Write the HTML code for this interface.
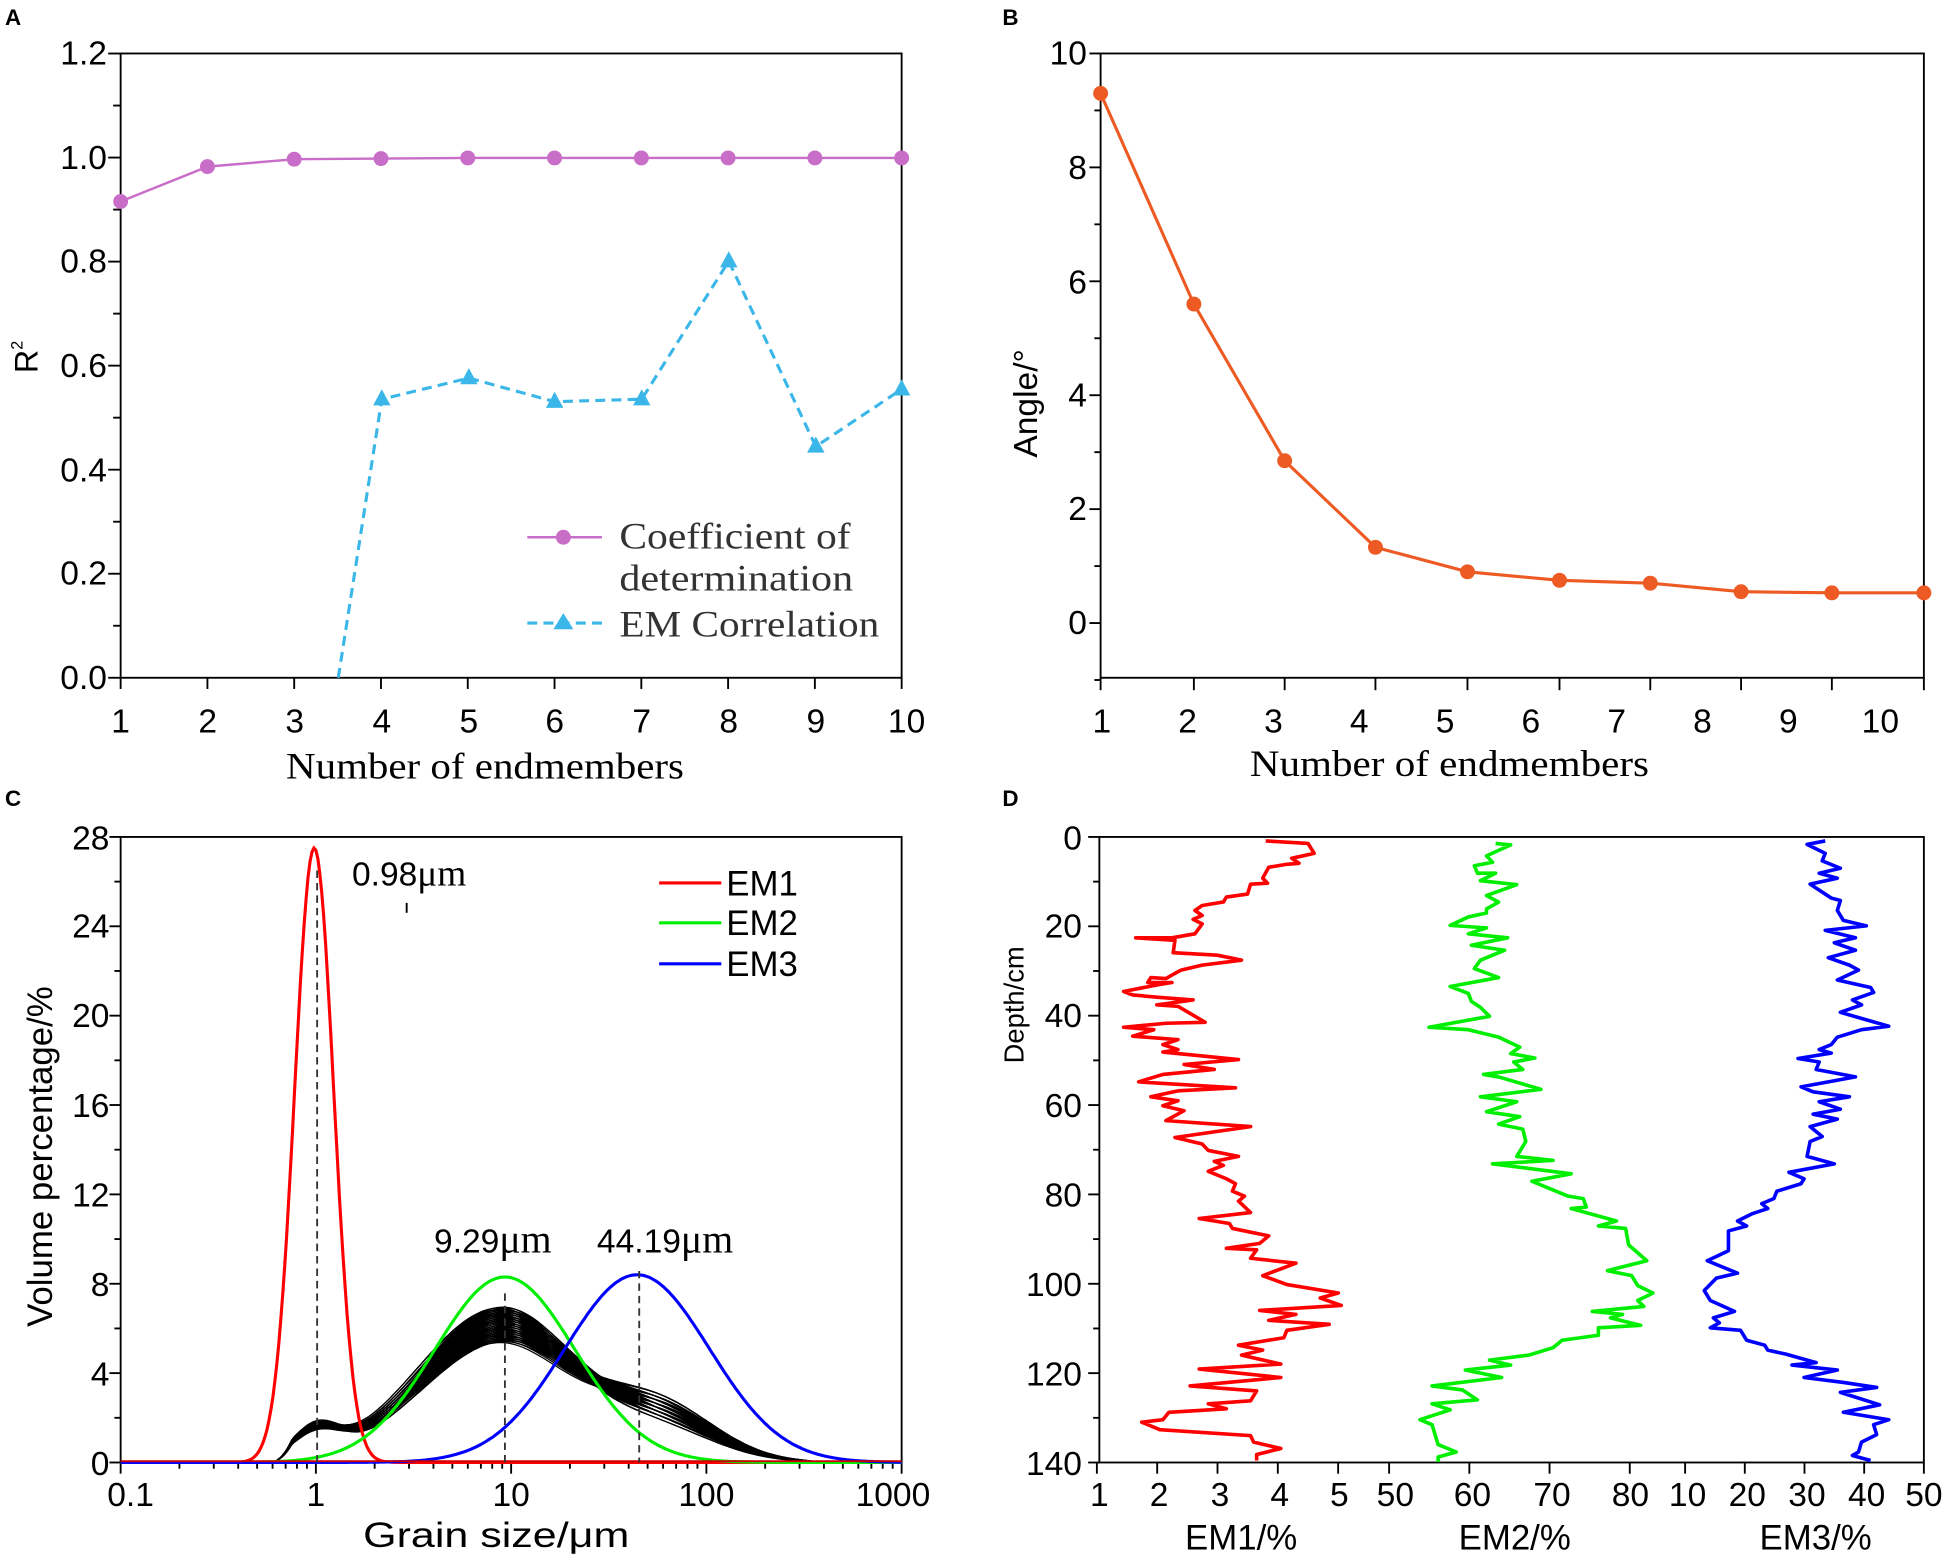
<!DOCTYPE html>
<html><head><meta charset="utf-8"><style>
html,body{margin:0;padding:0;background:#fff;}
svg{display:block;}
.s{font-family:"Liberation Sans",sans-serif;}
.r{font-family:"Liberation Serif",serif;}
</style></head><body>
<svg id="sv" width="1950" height="1557" viewBox="0 0 1568 1252" xmlns="http://www.w3.org/2000/svg">
<rect width="1568" height="1252" fill="#fff"/>
<g class="s" font-weight="bold" font-size="18"><text x="4" y="20">A</text><text x="806" y="20">B</text><text x="4" y="648">C</text><text x="806" y="648">D</text></g>

<!-- Panel A -->
<rect x="97" y="43" width="628" height="502" fill="none" stroke="#000" stroke-width="1.5"/>
<g id="axA" stroke="#000" stroke-width="1.5"></g>
<g class="s" font-size="27" text-anchor="end">
<text x="86" y="554">0.0</text><text x="86" y="470">0.2</text><text x="86" y="387">0.4</text><text x="86" y="303">0.6</text><text x="86" y="219">0.8</text><text x="86" y="136">1.0</text><text x="86" y="52">1.2</text></g>
<g class="s" font-size="27" text-anchor="middle">
<text x="97" y="589">1</text><text x="167" y="589">2</text><text x="237" y="589">3</text><text x="307" y="589">4</text><text x="377" y="589">5</text><text x="446" y="589">6</text><text x="516" y="589">7</text><text x="586" y="589">8</text><text x="656" y="589">9</text><text x="729" y="589">10</text></g>
<text class="r" x="230" y="626" font-size="30" textLength="320" lengthAdjust="spacingAndGlyphs">Number of endmembers</text>
<text class="s" font-size="26" transform="translate(30,300) rotate(-90)">R<tspan font-size="13" dy="-12">2</tspan></text>
<polyline fill="none" stroke="#c86ec8" stroke-width="2" points="97,162 167,134 237,128 307,127.5 377,127 446,127 516,127 586,127 656,127 725,127"/>
<g fill="#c86ec8" id="mA"></g>
<polyline fill="none" stroke="#3ab7e8" stroke-width="2.5" stroke-dasharray="8,5" points="272,545 307,321 377,304 446,323 516,321 586,210 656,359 725,313"/>
<g fill="#3ab7e8" id="tA"></g>
<line x1="424" y1="432" x2="484" y2="432" stroke="#c86ec8" stroke-width="2"/><circle cx="453" cy="432" r="6" fill="#c86ec8"/>
<line x1="424" y1="501" x2="484" y2="501" stroke="#3ab7e8" stroke-width="2.5" stroke-dasharray="8,5"/><polygon points="453,493 461,506 445,506" fill="#3ab7e8"/>
<g class="r" font-size="30" fill="#333"><text x="498" y="441" textLength="186" lengthAdjust="spacingAndGlyphs">Coefficient of</text><text x="498" y="475" textLength="188" lengthAdjust="spacingAndGlyphs">determination</text><text x="498" y="512" textLength="209" lengthAdjust="spacingAndGlyphs">EM Correlation</text></g>

<!-- Panel B -->
<rect x="885" y="43" width="662" height="502" fill="none" stroke="#000" stroke-width="1.5"/>
<g id="axB" stroke="#000" stroke-width="1.5"></g>
<g class="s" font-size="27" text-anchor="end">
<text x="874" y="510">0</text><text x="874" y="418">2</text><text x="874" y="327">4</text><text x="874" y="236">6</text><text x="874" y="144">8</text><text x="874" y="52">10</text></g>
<g class="s" font-size="27" text-anchor="middle">
<text x="886" y="589">1</text><text x="955" y="589">2</text><text x="1024" y="589">3</text><text x="1093" y="589">4</text><text x="1162" y="589">5</text><text x="1231" y="589">6</text><text x="1300" y="589">7</text><text x="1369" y="589">8</text><text x="1438" y="589">9</text><text x="1512" y="589">10</text></g>
<text class="r" x="1005" y="624" font-size="30" textLength="321" lengthAdjust="spacingAndGlyphs">Number of endmembers</text>
<text class="s" font-size="27" transform="translate(834,368) rotate(-90)">Angle/°</text>
<polyline id="plB" fill="none" stroke="#ee5a24" stroke-width="2.5"/>
<g fill="#ee5a24" id="mB"></g>

<!-- Panel C -->
<rect x="97" y="673" width="628" height="503" fill="none" stroke="#000" stroke-width="1.5"/>
<g id="axC" stroke="#000" stroke-width="1.5"></g>
<g class="s" font-size="27" text-anchor="end">
<text x="88" y="1186">0</text><text x="88" y="1114">4</text><text x="88" y="1042">8</text><text x="88" y="970">12</text><text x="88" y="898">16</text><text x="88" y="826">20</text><text x="88" y="754">24</text><text x="88" y="683">28</text></g>
<g class="s" font-size="27" text-anchor="middle">
<text x="105" y="1211">0.1</text><text x="254" y="1211">1</text><text x="411" y="1211">10</text><text x="568" y="1211">100</text><text x="718" y="1211">1000</text></g>
<text class="s" x="292" y="1244" font-size="28" textLength="214" lengthAdjust="spacingAndGlyphs">Grain size/μm</text>
<text class="s" font-size="28" text-anchor="middle" transform="translate(42,930) rotate(-90)">Volume percentage/%</text>
<g id="bundle" fill="none" stroke="#000" stroke-width="1"></g>
<path id="em1" fill="none" stroke="#f00" stroke-width="2.5"/>
<path id="em2" fill="none" stroke="#0e0" stroke-width="2.5"/>
<path id="em3" fill="none" stroke="#00f" stroke-width="2.5"/>
<line x1="97" y1="1175" x2="725" y2="1175" stroke="#c00" stroke-width="1.5"/>
<g stroke="#333" stroke-width="1.5" stroke-dasharray="6,4">
<line x1="255" y1="700" x2="255" y2="1176"/><line x1="406" y1="1040" x2="406" y2="1176"/><line x1="514" y1="1022" x2="514" y2="1176"/></g>
<line x1="327" y1="726" x2="327" y2="734" stroke="#000" stroke-width="1.5"/>
<g class="s" font-size="27"><text x="283" y="712">0.98<tspan class="r" font-size="30">μm</tspan></text>
<text x="349" y="1007">9.29<tspan class="r" font-size="32">μm</tspan></text><text x="480" y="1007">44.19<tspan class="r" font-size="32">μm</tspan></text></g>
<g stroke-width="2.5"><line x1="530" y1="710" x2="580" y2="710" stroke="#f00"/><line x1="530" y1="742" x2="580" y2="742" stroke="#0e0"/><line x1="530" y1="775" x2="580" y2="775" stroke="#00f"/></g>
<g class="s" font-size="28"><text x="584" y="720">EM1</text><text x="584" y="752">EM2</text><text x="584" y="785">EM3</text></g>

<!-- Panel D -->
<rect x="884" y="673" width="663" height="503" fill="none" stroke="#000" stroke-width="1.5"/>
<g id="axD" stroke="#000" stroke-width="1.5"></g>
<g class="s" font-size="27" text-anchor="end">
<text x="870" y="1186">140</text><text x="870" y="1114">120</text><text x="870" y="1042">100</text><text x="870" y="970">80</text><text x="870" y="898">60</text><text x="870" y="826">40</text><text x="870" y="754">20</text><text x="870" y="683">0</text></g>
<g class="s" font-size="27" text-anchor="middle">
<text x="884" y="1211">1</text><text x="932" y="1211">2</text><text x="981" y="1211">3</text><text x="1029" y="1211">4</text><text x="1077" y="1211">5</text><text x="1122" y="1211">50</text><text x="1184" y="1211">60</text><text x="1248" y="1211">70</text><text x="1311" y="1211">80</text><text x="1357" y="1211">10</text><text x="1405" y="1211">20</text><text x="1453" y="1211">30</text><text x="1501" y="1211">40</text><text x="1547" y="1211">50</text></g>
<g class="s" font-size="28" text-anchor="middle"><text x="998" y="1246">EM1/%</text><text x="1218" y="1246">EM2/%</text><text x="1460" y="1246">EM3/%</text></g>
<text class="s" font-size="22" text-anchor="middle" transform="translate(823,808) rotate(-90)">Depth/cm</text>
<g transform="translate(884,673) scale(0.4864,0.3995) translate(-160,-117)" fill="none" stroke-width="3.6" stroke-linejoin="round">
<polyline vector-effect="non-scaling-stroke" stroke="#f00" points="435,125 505,130 515,150 478,160 490,170 470,172 440,178 430,200 438,210 410,212 405,232 370,238 365,248 330,255 318,265 330,275 315,283 330,292 318,312 280,320 220,320 285,325 282,350 355,355 395,365 330,375 295,385 280,395 270,402 245,400 240,410 280,410 255,415 200,428 215,435 260,440 315,445 255,455 290,458 335,490 270,492 200,500 250,505 215,518 290,525 265,535 290,545 265,550 390,565 300,575 350,585 265,595 225,610 385,622 290,628 245,640 290,648 265,658 300,668 270,688 410,700 285,722 330,735 340,748 390,760 350,770 365,778 340,790 370,805 385,815 380,830 400,840 390,850 410,873 325,885 375,895 380,905 440,920 425,935 370,945 420,948 410,965 485,975 430,1000 470,1018 555,1035 525,1045 560,1060 425,1070 485,1078 440,1090 540,1098 470,1110 465,1125 390,1140 430,1150 395,1160 460,1178 325,1188 460,1205 310,1222 420,1232 410,1252 340,1258 370,1268 275,1275 265,1290 230,1295 260,1310 410,1322 415,1335 460,1348 420,1360 420,1372"/>
<polyline vector-effect="non-scaling-stroke" stroke="#0e0" points="815,130 840,133 800,155 810,168 780,175 785,190 815,190 790,205 850,213 800,235 820,248 800,262 800,270 770,278 740,295 800,300 770,312 835,320 775,335 830,345 790,365 780,382 820,400 740,418 770,432 775,448 790,460 805,478 705,500 770,505 820,520 855,540 840,553 880,562 845,570 860,585 795,595 820,600 890,625 790,640 850,650 800,670 855,680 820,695 860,705 865,730 850,760 910,768 810,775 940,795 875,810 935,840 960,845 965,862 940,865 1015,890 985,900 1030,905 1035,938 1065,970 1000,990 1040,1000 1050,1020 1075,1035 1050,1050 1060,1062 975,1072 1025,1078 1005,1085 1055,1100 985,1105 985,1120 925,1130 910,1145 870,1160 805,1170 840,1180 765,1190 825,1205 710,1222 760,1230 785,1250 710,1258 740,1270 690,1290 710,1300 715,1320 720,1340 750,1355 720,1365 720,1375"/>
<polyline vector-effect="non-scaling-stroke" stroke="#00f" points="1360,125 1330,132 1360,150 1355,165 1385,180 1350,190 1380,200 1335,212 1370,240 1385,245 1380,265 1390,285 1428,296 1360,305 1410,320 1375,330 1410,345 1365,360 1400,375 1415,385 1380,405 1435,420 1440,430 1405,445 1420,455 1385,470 1465,498 1420,505 1380,520 1370,535 1350,545 1370,552 1315,563 1350,570 1345,585 1410,600 1320,620 1340,630 1400,640 1350,650 1385,665 1340,675 1380,685 1335,700 1355,720 1335,730 1330,760 1375,775 1300,792 1325,805 1320,815 1280,830 1275,845 1255,855 1265,865 1240,875 1215,890 1230,900 1200,910 1200,950 1165,970 1215,995 1180,1005 1160,1030 1170,1050 1210,1072 1175,1085 1185,1095 1170,1105 1220,1110 1230,1130 1260,1140 1265,1150 1295,1158 1330,1170 1345,1175 1305,1180 1380,1190 1325,1205 1390,1215 1445,1225 1385,1235 1450,1260 1390,1275 1465,1290 1440,1300 1445,1320 1420,1335 1415,1355 1405,1362 1435,1372"/>
</g>
</svg>
<script>
(function(){
var NS="http://www.w3.org/2000/svg";
function L(g,x1,y1,x2,y2){var l=document.createElementNS(NS,"line");l.setAttribute("x1",x1);l.setAttribute("y1",y1);l.setAttribute("x2",x2);l.setAttribute("y2",y2);document.getElementById(g).appendChild(l);}
function C(g,x,y,r){var c=document.createElementNS(NS,"circle");c.setAttribute("cx",x);c.setAttribute("cy",y);c.setAttribute("r",r);document.getElementById(g).appendChild(c);}
var i;
for(i=0;i<=12;i++){var y=545-i*41.83;L("axA",97,y,i%2?91:87,y);}
for(i=0;i<10;i++){L("axA",97+i*69.78,545,97+i*69.78,554);}
[162,134,128,127.5,127,127,127,127,127,127].forEach(function(y,k){C("mA",97+k*69.78,y,6);});
[[307,321],[377,304],[446,323],[516,321],[586,210],[656,359],[725,313]].forEach(function(p){var t=document.createElementNS(NS,"polygon");t.setAttribute("points",p[0]+","+(p[1]-8)+" "+(p[0]+7)+","+(p[1]+5)+" "+(p[0]-7)+","+(p[1]+5));document.getElementById("tA").appendChild(t);});
for(i=-1;i<=10;i++){var y=501-i*45.8;L("axB",885,y,i%2?880:876,y);}
var bx=[885,960,1033,1106,1180,1254,1327,1400,1473,1547],bv=[9.3,5.6,2.85,1.33,0.9,0.75,0.7,0.55,0.53,0.53],pts=[];
bx.forEach(function(x,k){var y=501-bv[k]*45.8;pts.push(x+","+y);C("mB",x,y,6);L("axB",x,545,x,555);});
document.getElementById("plB").setAttribute("points",pts.join(" "));
function X(v){return 97+(Math.log10(v)+1)*157;}function Y(p){return 1176-p*17.97;}
for(i=0;i<=14;i++){var y=1176-i*35.93;L("axC",97,y,i%2?92:88,y);}
for(var d=-1;d<3;d++){for(var m=1;m<10;m++){var x=X(m*Math.pow(10,d));L("axC",x,1176,x,m==1?1185:1181);}}
L("axC",725,1176,725,1185);
function g(l,mu,s){return Math.exp(-(l-mu)*(l-mu)/(2*s*s));}
function curve(id,mu,s,h){var p="";for(var l=-1;l<=3;l+=0.01){var v=h*g(l,mu,s);p+=(p?"L":"M")+X(Math.pow(10,l)).toFixed(1)+","+Y(v).toFixed(1);}document.getElementById(id).setAttribute("d",p);}
curve("em1",Math.log10(0.98),0.1,27.5);curve("em2",Math.log10(9.29),0.36,8.3);curve("em3",Math.log10(44.19),0.37,8.4);
var B=document.getElementById("bundle");
for(var k=0;k<60;k++){var t=k/59,r=((k*37)%11)/10;
var a=1.0+0.4*r,b=5.3+1.6*t,c=2.4-1.0*t+0.3*r,mu=0.95+0.04*(r-0.5);
var p="";for(var l=-0.22;l<=2.75;l+=0.012){var v=a*g(l,0,0.12)+b*(l<mu?g(l,mu,0.42):g(l,mu,0.36))+c*g(l,1.74,0.3);
var f=Math.min(1,(l+0.22)/0.1);v*=f;if(l>2.5)v*=Math.max(0,(2.75-l)/0.25);
p+=(p?"L":"M")+X(Math.pow(10,l)).toFixed(1)+","+Y(v).toFixed(1);}
var e=document.createElementNS(NS,"path");e.setAttribute("d",p);B.appendChild(e);}
for(i=0;i<=14;i++){var y=673+i*35.93;L("axD",884,y,i%2?879:875,y);}
[1,2,3,4,5].forEach(function(v){var x=882+(v-1)*48.5;L("axD",x,1176,x,1185);});
[50,60,70,80].forEach(function(v){var x=1117+(v-50)*6.45;L("axD",x,1176,x,1185);});
[10,20,30,40,50].forEach(function(v){var x=1355+(v-10)*4.8;L("axD",x,1176,x,1185);});
})();
</script>
</body></html>
